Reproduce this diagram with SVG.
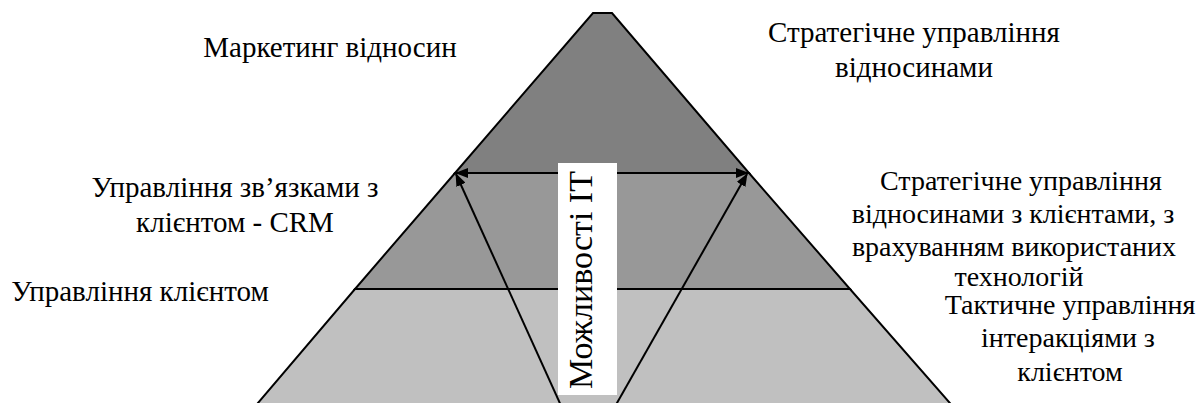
<svg xmlns="http://www.w3.org/2000/svg" width="1200" height="403" viewBox="0 0 1200 403">
  <defs>
    <marker id="ah" viewBox="0 0 13 10" refX="12" refY="5" markerWidth="13" markerHeight="10" markerUnits="userSpaceOnUse" orient="auto-start-reverse">
      <path d="M0,0 L13,5 L0,10 Z" fill="#000"/>
    </marker>
    <style>
      .band { stroke: #000; stroke-width: 2; stroke-linejoin: miter; }
      .lbl { font-family: "Liberation Serif", "Times New Roman", serif; font-size: 29px; fill: #000; text-anchor: middle; }
      .sm { font-size: 28px; }
      .conn { stroke: #000; stroke-width: 2; fill: none; }
    </style>
  </defs>
  <rect width="1200" height="403" fill="#fff"/>

  <g id="band-bottom">
    <polygon class="band" points="355,289 850,289 956,410 252,410" fill="#c0c0c0"/>
  </g>
  <g id="band-middle">
    <polygon class="band" points="455,173 749,173 850,289 355,289" fill="#989898"/>
  </g>
  <g id="band-top">
    <polygon class="band" points="593,13 612,13 749,173 455,173" fill="#808080"/>
  </g>

  <g id="connectors">
    <line class="conn" x1="563" y1="410" x2="456" y2="174" marker-end="url(#ah)"/>
    <line class="conn" x1="613" y1="410" x2="747" y2="174" marker-end="url(#ah)"/>
    <line class="conn" x1="456" y1="173" x2="748" y2="173" marker-start="url(#ah)" marker-end="url(#ah)"/>
  </g>

  <g id="it-box" font-family="Liberation Serif, serif">
    <rect x="558" y="163" width="59" height="232" fill="#fff"/>
    <text class="lbl" style="font-size:34px" transform="translate(592,280) rotate(-90)">Можливості ІТ</text>
  </g>

  <g id="label-marketing" font-family="Liberation Serif, serif">
    <text class="lbl" x="330" y="57">Маркетинг відносин</text>
  </g>
  <g id="label-strategic" font-family="Liberation Serif, serif">
    <text class="lbl" x="914" y="42">Стратегічне управління</text>
    <text class="lbl" x="914" y="77">відносинами</text>
  </g>
  <g id="label-crm" font-family="Liberation Serif, serif">
    <text class="lbl" x="235" y="197">Управління зв’язками з</text>
    <text class="lbl" x="235" y="232">клієнтом - CRM</text>
  </g>
  <g id="label-strategic-clients" font-family="Liberation Serif, serif">
    <text class="lbl sm" x="1021" y="190">Стратегічне управління</text>
    <text class="lbl sm" x="1013" y="223">відносинами з клієнтами, з</text>
    <text class="lbl sm" x="1014" y="256">врахуванням використаних</text>
    <text class="lbl sm" x="1019" y="286">технологій</text>
  </g>
  <g id="label-customer-mgmt" font-family="Liberation Serif, serif">
    <text class="lbl" x="140" y="301">Управління клієнтом</text>
  </g>
  <g id="label-tactical" font-family="Liberation Serif, serif">
    <text class="lbl sm" x="1070" y="314">Тактичне управління</text>
    <text class="lbl sm" x="1068" y="347">інтеракціями з</text>
    <text class="lbl sm" x="1070" y="381">клієнтом</text>
  </g>
</svg>
